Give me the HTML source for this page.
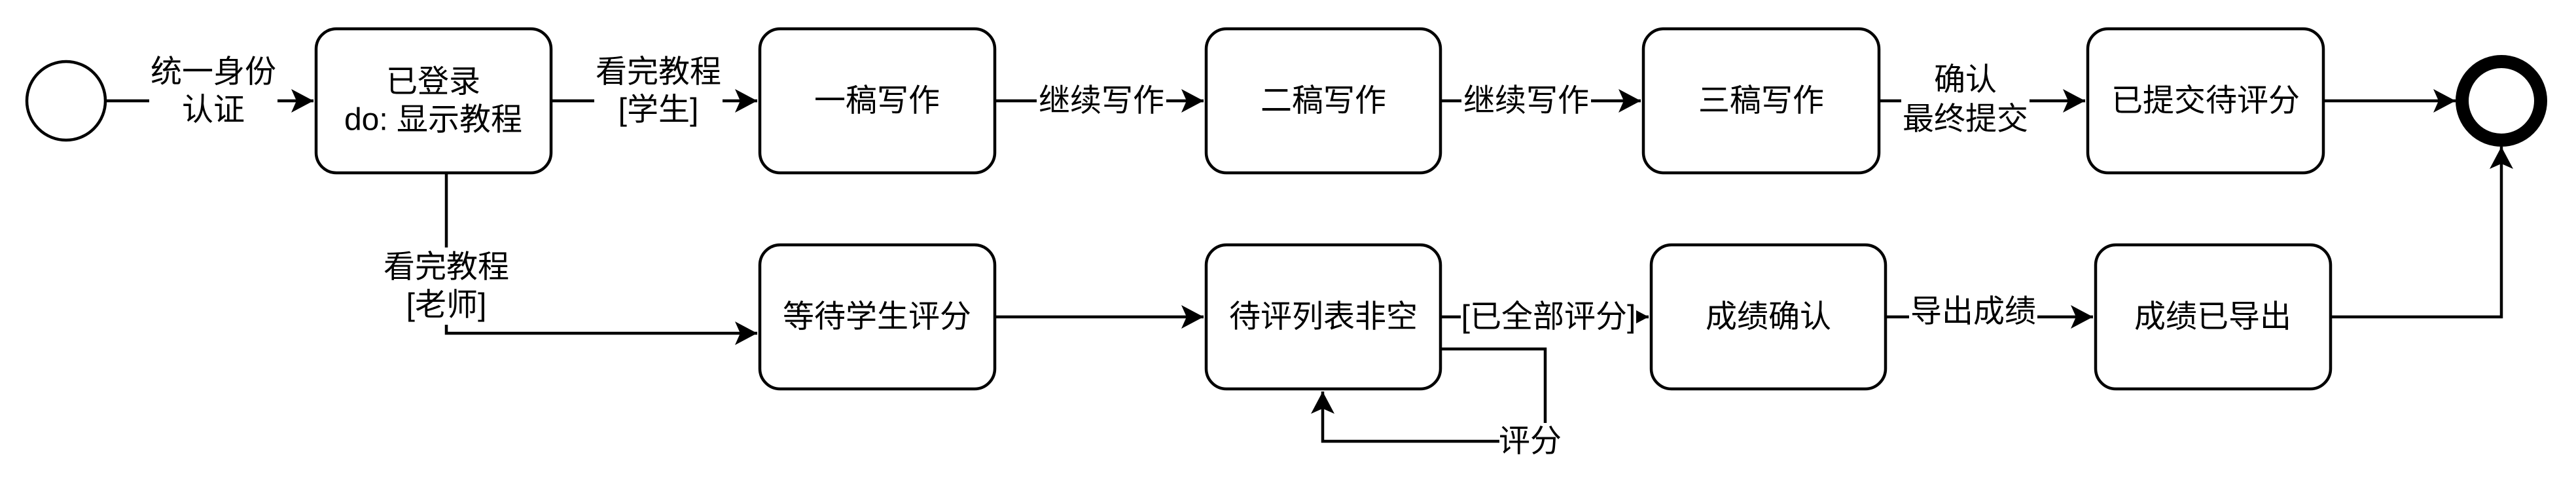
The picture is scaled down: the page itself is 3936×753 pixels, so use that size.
<!DOCTYPE html>
<html><head><meta charset="utf-8"><style>
html,body{margin:0;padding:0;background:#fff;}
svg text{font-family:"Liberation Sans","Noto Sans CJK SC",sans-serif;font-size:48px;fill:#000;}
</style></head><body>
<svg width="3936" height="748" viewBox="0 0 3936 748" xmlns="http://www.w3.org/2000/svg">
<defs>
<marker id="a" markerUnits="userSpaceOnUse" markerWidth="40" markerHeight="40" viewBox="-36 -20 40 40" refX="0" refY="0" orient="auto">
<path d="M0,0 L-34,-18 L-26,0 L-34,18 Z" fill="#000"/>
</marker>
</defs>
<g fill="none" stroke="#000" stroke-width="4.5">
<circle cx="101" cy="154" r="60"/>
<circle cx="3822" cy="154" r="60" stroke-width="20"/>
<rect x="483" y="44" width="359" height="220" rx="31"/>
<rect x="1161" y="44" width="359" height="220" rx="31"/>
<rect x="1843" y="44" width="358" height="220" rx="31"/>
<rect x="2511" y="44" width="360" height="220" rx="31"/>
<rect x="3190" y="44" width="360" height="220" rx="31"/>
<rect x="1161" y="374" width="359" height="220" rx="31"/>
<rect x="1843" y="374" width="358" height="220" rx="31"/>
<rect x="2523" y="374" width="358" height="220" rx="31"/>
<rect x="3202" y="374" width="359" height="220" rx="31"/>
<g marker-end="url(#a)">
<path d="M162,154 H479"/>
<path d="M842,154 H1157"/>
<path d="M1520,154 H1839"/>
<path d="M2201,154 H2507"/>
<path d="M2871,154 H3186"/>
<path d="M3550,154 H3752"/>
<path d="M682,264 V509 H1157"/>
<path d="M1520,484 H1839"/>
<path d="M2201,484 H2519"/>
<path d="M2881,484 H3198"/>
<path d="M3561,484 H3822 V224"/>
<path d="M2201,533 H2361 V674 H2021 V598"/>
</g>
</g>
<g fill="#fff">
<rect x="228" y="80" width="196" height="118"/>
<rect x="908" y="80" width="196" height="118"/>
<rect x="630" y="378" width="104" height="118"/>
<rect x="1584" y="126" width="198" height="56"/>
<rect x="2233" y="126" width="198" height="56"/>
<rect x="2905" y="90" width="196" height="124"/>
<rect x="2232" y="456" width="268" height="56"/>
<rect x="2917" y="448" width="196" height="56"/>
<rect x="2291" y="646" width="96" height="56"/>
</g>
<g text-anchor="middle" dominant-baseline="central">
<text x="326" y="110">统一身份</text><text x="326" y="168">认证</text>
<text x="662" y="125">已登录</text><text x="662" y="183">do: 显示教程</text>
<text x="1006" y="110">看完教程</text><text x="1006" y="168">[学生]</text>
<text x="682" y="408">看完教程</text><text x="682" y="466">[老师]</text>
<text x="1340" y="154">一稿写作</text>
<text x="1683" y="154">继续写作</text>
<text x="2022" y="154">二稿写作</text>
<text x="2332" y="154">继续写作</text>
<text x="2691" y="154">三稿写作</text>
<text x="3003" y="122">确认</text><text x="3003" y="182">最终提交</text>
<text x="3370" y="154">已提交待评分</text>
<text x="1340" y="484">等待学生评分</text>
<text x="2022" y="484">待评列表非空</text>
<text x="2366" y="484">[已全部评分]</text>
<text x="2702" y="484">成绩确认</text>
<text x="3015" y="476">导出成绩</text>
<text x="3381" y="484">成绩已导出</text>
<text x="2338" y="674">评分</text>
</g>
</svg>
</body></html>
